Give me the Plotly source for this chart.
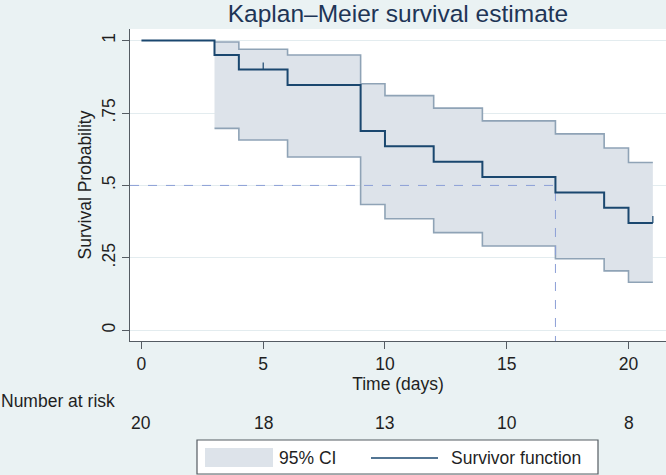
import plotly.graph_objects as go

# ---- data ----
step_times = [0, 3, 4, 6, 9, 10, 12, 14, 17, 19, 20, 21]
survival = [1.0, 0.95, 0.90, 0.847, 0.688, 0.635, 0.582, 0.529, 0.476, 0.423, 0.370, 0.370]
ci_times = [3, 4, 6, 9, 10, 12, 14, 17, 19, 20, 21]
ci_upper = [0.995, 0.97, 0.95, 0.851, 0.81, 0.767, 0.723, 0.678, 0.629, 0.579, 0.579]
ci_lower = [0.697, 0.657, 0.598, 0.434, 0.385, 0.337, 0.291, 0.247, 0.205, 0.166, 0.166]
censor_times = [5, 21]
censor_surv = [0.90, 0.370]
median_time = 17
median_level = 0.5
risk_times = [0, 5, 10, 15, 20]
risk_counts = [20, 18, 13, 10, 8]
x_ticks = [0, 5, 10, 15, 20]
y_ticks = [0, 0.25, 0.5, 0.75, 1]
y_ticktext = ["0", ".25", ".5", ".75", "1"]

XR = [-0.47, 21.54]
YR = [-0.037, 1.04]

FONT = "Liberation Sans, Arial, sans-serif"
FS = 17.5
BG = "#eaf2f3"
CI_FILL = "#dde3ea"
CI_LINE = "#8fa3b6"
SURV = "#1a476f"
MED = "#8c9fd6"
AX = "#555c63"
TXT = "#1f1f1f"

fig = go.Figure()

# CI band
fig.add_trace(go.Scatter(x=ci_times, y=ci_lower, mode="lines", line_shape="hv",
                         line=dict(color=CI_LINE, width=1.6), showlegend=False, hoverinfo="skip"))
fig.add_trace(go.Scatter(x=ci_times, y=ci_upper, mode="lines", line_shape="hv",
                         fill="tonexty", fillcolor=CI_FILL,
                         line=dict(color=CI_LINE, width=1.6), name="95% CI", showlegend=False))

# median reference line
fig.add_trace(go.Scatter(x=[XR[0], median_time, median_time], y=[median_level, median_level, YR[0]],
                         mode="lines", line=dict(color=MED, width=1, dash="dash"),
                         showlegend=False, hoverinfo="skip"))

# survivor function
fig.add_trace(go.Scatter(x=step_times, y=survival, mode="lines", line_shape="hv",
                         line=dict(color=SURV, width=2), name="Survivor function", showlegend=False))

shapes = []
for t, s in zip(censor_times, censor_surv):
    shapes.append(dict(type="line", xref="x", yref="y", ysizemode="pixel", yanchor=s,
                       x0=t, x1=t, y0=0, y1=7, line=dict(color=SURV, width=1.2)))

# manual legend (paper coords relative to plot area: x 130-666 px, y 29-341 px)
def px_x(p):
    return (p - 130) / 536.0

def px_y(p):
    return (341 - p) / 312.0

shapes.append(dict(type="rect", xref="paper", yref="paper",
                   x0=px_x(197), x1=px_x(598), y0=px_y(474), y1=px_y(440),
                   fillcolor="white", line=dict(color=AX, width=1.2), layer="above"))
shapes.append(dict(type="rect", xref="paper", yref="paper",
                   x0=px_x(205), x1=px_x(273), y0=px_y(467), y1=px_y(448),
                   fillcolor=CI_FILL, line=dict(width=0), layer="above"))
shapes.append(dict(type="line", xref="paper", yref="paper",
                   x0=px_x(371), x1=px_x(438), y0=px_y(458), y1=px_y(458),
                   line=dict(color=SURV, width=1.6), layer="above"))

annotations = [
    dict(text="Number at risk", xref="paper", yref="paper", x=px_x(-1), y=px_y(401),
         xanchor="left", yanchor="middle", showarrow=False, font=dict(size=FS, color=TXT)),
    dict(text="95% CI", xref="paper", yref="paper", x=px_x(277), y=px_y(458),
         xanchor="left", yanchor="middle", showarrow=False, font=dict(size=FS, color=TXT)),
    dict(text="Survivor function", xref="paper", yref="paper", x=px_x(449), y=px_y(458),
         xanchor="left", yanchor="middle", showarrow=False, font=dict(size=FS, color=TXT)),
]
for t, n in zip(risk_times, risk_counts):
    annotations.append(dict(text=str(n), xref="x", yref="paper", x=t, y=px_y(423),
                            xanchor="center", yanchor="middle", showarrow=False,
                            font=dict(size=FS, color=TXT)))

fig.update_layout(
    width=666, height=475,
    margin=dict(l=130, r=0, t=29, b=134),
    paper_bgcolor=BG, plot_bgcolor="white",
    font=dict(family=FONT, size=FS, color=TXT),
    title=dict(text="Kaplan\u2013Meier survival estimate", x=0.5, xref="paper",
               y=1 - 13 / 475, yref="container", yanchor="middle",
               font=dict(size=24.5, color="#1e3556")),
    showlegend=False,
    shapes=shapes, annotations=annotations,
    xaxis=dict(range=XR, tickvals=x_ticks, ticks="outside", ticklen=7, tickcolor=AX,
               showline=True, linecolor=AX, linewidth=1.2, showgrid=False, zeroline=False,
               title=dict(text="Time (days)", standoff=2, font=dict(size=FS)),
               tickfont=dict(size=FS)),
    yaxis=dict(range=YR, tickvals=y_ticks, ticktext=y_ticktext, tickangle=-90,
               ticks="outside", ticklen=7, tickcolor=AX, showline=True, linecolor=AX,
               linewidth=1.2, showgrid=True, gridcolor="#e3ecef", zeroline=False,
               title=dict(text="Survival Probability", standoff=2, font=dict(size=FS)),
               tickfont=dict(size=FS)),
)

fig.write_html("out.html", config={"displayModeBar": False},
               post_script="document.body.style.margin='0';document.body.style.overflow='hidden';")
